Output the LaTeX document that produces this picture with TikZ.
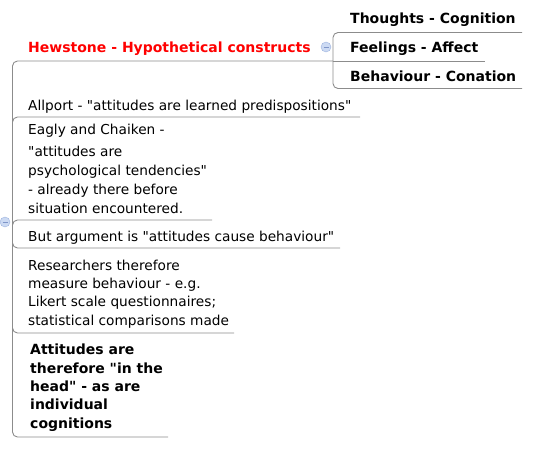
\documentclass[tikz,border=0pt]{standalone}
\usepackage{fontspec}
\setmainfont{DejaVu Sans}[Ligatures=TeXOff]
\definecolor{linegray}{HTML}{8C8C8C}
\definecolor{knobfill}{HTML}{CCDAF3}
\definecolor{knobline}{HTML}{9CB2DE}
\definecolor{knobdash}{HTML}{7F95C8}
\begin{document}
\begin{tikzpicture}[x=1pt,y=-1pt,
    topic/.style={anchor=base west,inner sep=0pt,align=left,font=\fontsize{13.7}{19}\selectfont},
    boldtopic/.style={topic,font=\fontsize{14}{18.3}\selectfont\bfseries},
    branch/.style={draw=linegray,line width=0.9pt,rounded corners=5pt},
    knob/.style={circle,draw=knobline,fill=knobfill,minimum size=10pt,inner sep=0pt,
        path picture={\draw[knobdash,line width=0.8pt] ([xshift=-2.5pt]path picture bounding box.center) -- ([xshift=2.5pt]path picture bounding box.center);}}]
    \useasboundingbox (0,0) rectangle (541,450);
    % branch points and line ends
    \coordinate (hub) at (12.5,222);
    \coordinate (hewhub) at (333,61);
    \coordinate (thoughtsend) at (522,32.5);
    \coordinate (feelingsend) at (485,61);
    \coordinate (behaviourend) at (522,88.5);
    \coordinate (allportend) at (360,117);
    \coordinate (eaglyend) at (212,220);
    \coordinate (argumentend) at (340,248);
    \coordinate (researchend) at (234,333);
    \coordinate (attitudeend) at (168,437);
    \begin{scope}[every path/.style={branch}]
        \draw (hub) |- (hewhub);
        \draw (hewhub) -- (feelingsend);
        \draw (hewhub) |- (thoughtsend);
        \draw (hewhub) |- (behaviourend);
        \draw (hub) |- (allportend);
        \draw (hub) |- (eaglyend);
        \draw (hub) |- (argumentend);
        \draw (hub) |- (researchend);
        \draw (hub) |- (attitudeend);
    \end{scope}
    % topics (multi-line ones sit on their last line)
    \node[boldtopic] (thoughts) at (350,23) {Thoughts - Cognition};
    \node[boldtopic,text=red] (hewstone) at (28,52) {Hewstone - Hypothetical constructs};
    \node[boldtopic] (feelings) at (350,52) {Feelings - Affect};
    \node[boldtopic] (behaviour) at (350,81) {Behaviour - Conation};
    \node[topic] (allport) at (28,110) {Allport - "attitudes are learned predispositions"};
    \node[topic] (eagly) at (28,213) {Eagly and Chaiken -\\[3pt] "attitudes are\\psychological tendencies"\\- already there before\\situation encountered.};
    \node[topic] (argument) at (28,241) {But argument is "attitudes cause behaviour"};
    \node[topic,font=\fontsize{13.7}{18.3}\selectfont] (research) at (28,325) {Researchers therefore\\measure behaviour - e.g.\\Likert scale questionnaires;\\statistical comparisons made};
    \node[boldtopic] (attitude) at (30,428) {Attitudes are\\therefore "in the\\head" - as are\\individual\\cognitions};
    % collapse knobs
    \node[knob] (hewknob) at (326,47) {};
    \node[knob] (hubknob) at (5,222) {};
\end{tikzpicture}
\end{document}
